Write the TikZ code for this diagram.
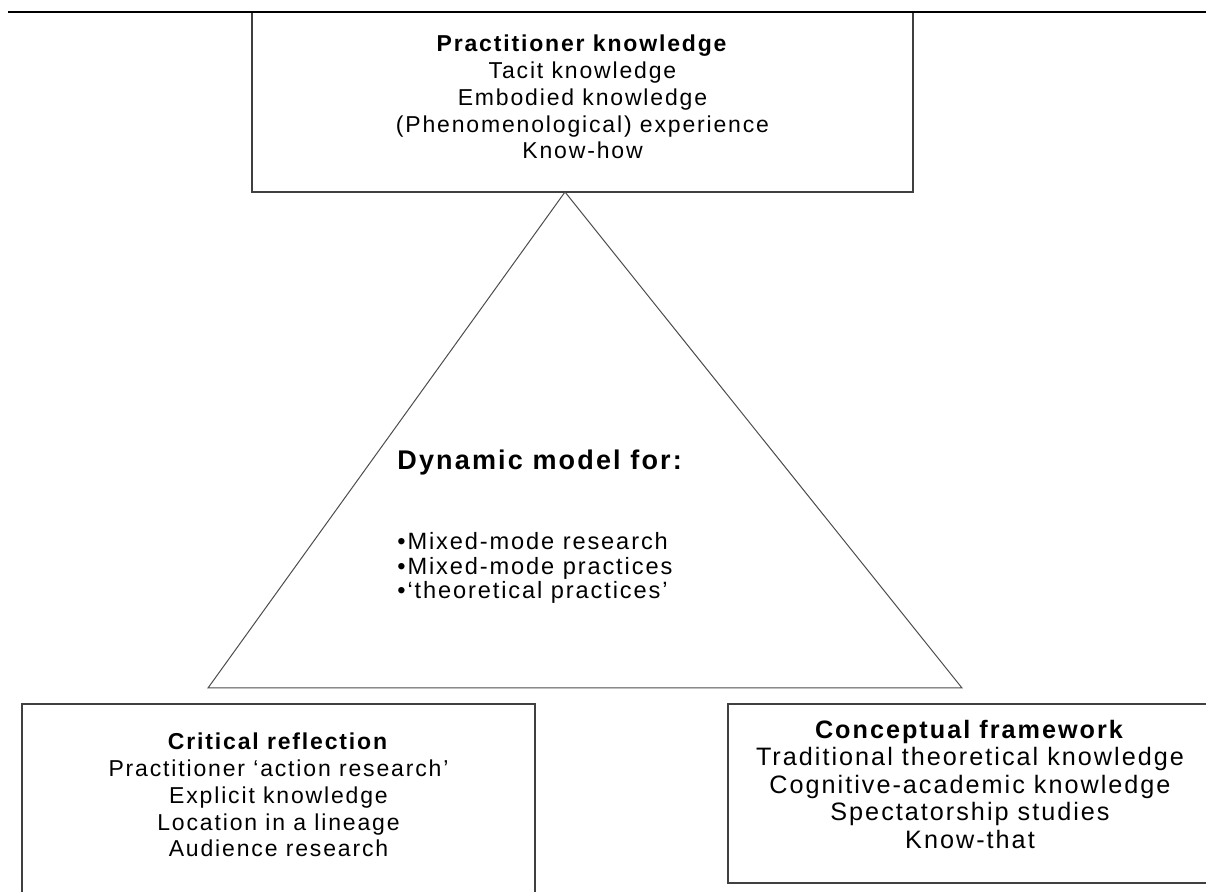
\documentclass[tikz,border=0pt]{standalone}
\usepackage{fontspec}
\setmainfont{Liberation Sans}[LetterSpace=8]
\usetikzlibrary{positioning}

\begin{document}
\begin{tikzpicture}[
    % --- Global styles (1 unit = 1 pixel of the page) ---
    x=0.5pt, y=-0.5pt,
    every node/.style={font=\fontsize{11.5}{13.35}\selectfont, inner sep=0pt},
    % --- Boxes ---
    frame/.style={
      draw=black!75, line width=0.6pt,
      align=center, text depth=5pt,
    },
    large frame/.style={
      frame, text depth=9.5pt,
      font=\fontsize{12.6}{13.75}\selectfont,
    },
    % --- Lines ---
    rule/.style={draw=black, line width=0.6pt},
    edge/.style={draw=black!70, line width=0.5pt, line join=miter},
    % --- Texts inside the triangle ---
    title/.style={font=\fontsize{13.5}{16}\selectfont\bfseries},
    bullets/.style={align=left, font=\fontsize{11.8}{12.25}\selectfont},
  ]

  \useasboundingbox (0,0) rectangle (1206,892);
  \clip (0,0) rectangle (1206,892);

  %% ---- Boxes ----

  % Practitioner knowledge (top)
  \node[frame, minimum width=330.5pt, minimum height=90pt] (practitioner)
    at (582.5,102)
    {\textbf{Practitioner knowledge}\\ Tacit knowledge\\ Embodied knowledge\\
     (Phenomenological) experience\\ Know-how};

  % Critical reflection (bottom left, runs off the page)
  \node[frame, minimum width=256.5pt, minimum height=96pt] (reflection)
    at (278.5,800)
    {\textbf{Critical reflection}\\ Practitioner ‘action research’\\
     Explicit knowledge\\ Location in a lineage\\ Audience research};

  % Conceptual framework (bottom right, runs off the page)
  \node[large frame, minimum width=242pt, minimum height=89.5pt] (framework)
    at (970,793.5)
    {\textbf{Conceptual framework}\\ Traditional theoretical knowledge\\
     Cognitive-academic knowledge\\ Spectatorship studies\\ Know-that};

  %% ---- Rule along the top ----

  \coordinate (rule start) at (8,12);
  \coordinate (rule end) at (1206,12);
  \draw[rule] (rule start) -- (rule end);

  %% ---- Triangle ----

  \coordinate (apex) at (565,192);
  \coordinate (base west) at (208,688);
  \coordinate (base east) at (962,688);
  \draw[edge] (apex) -- (base east) -- (base west) -- cycle;

  %% ---- Texts in the triangle ----

  \node[title, anchor=base west] (model) at (397,470) {Dynamic model for:};
  \node[bullets, below right=28pt and 0pt of model.south west] (modes)
    {•Mixed-mode research\\ •Mixed-mode practices\\ •‘theoretical practices’};

\end{tikzpicture}
\end{document}
